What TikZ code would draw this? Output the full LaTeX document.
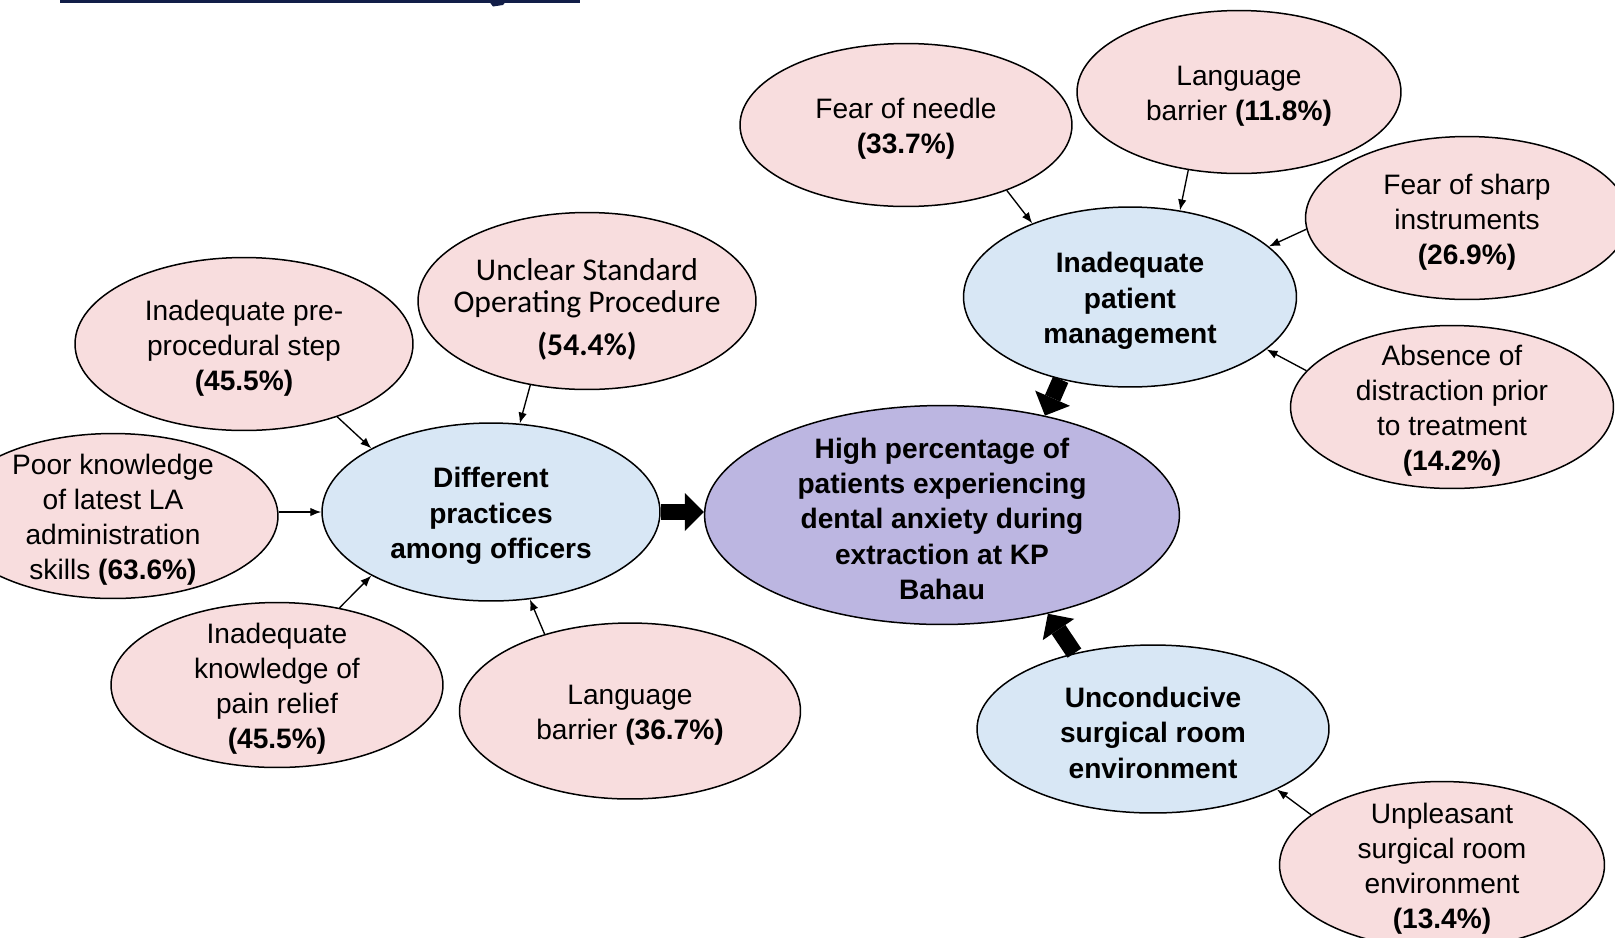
\documentclass[tikz,border=0pt]{standalone}
\usepackage{fontspec}
\setmainfont{Liberation Sans}
\newfontfamily\calibrifont{Carlito}
\usetikzlibrary{arrows.meta,shapes.geometric}

\definecolor{causepink}{RGB}{248,221,222}
\definecolor{factorblue}{RGB}{216,231,245}
\definecolor{problempurple}{RGB}{188,182,225}
\definecolor{titlenavy}{RGB}{18,30,72}

\newcommand\toplift{\rule{0pt}{16pt}}

\begin{document}
\begin{tikzpicture}[x=0.02cm, y=-0.02cm,
    cause/.style={ellipse, draw=black, line width=0.03cm, fill=causepink,
                  minimum width=6.6cm, minimum height=3.3cm,
                  inner xsep=-0.5cm, inner ysep=-0.3cm,
                  align=center, font=\fontsize{16}{20}\selectfont},
    factor/.style={cause, fill=factorblue,
                  font=\fontsize{16}{20}\selectfont\bfseries},
    problem/.style={cause, fill=problempurple,
                  font=\fontsize{16}{20}\selectfont\bfseries},
    arr/.style={-{Latex[length=0.22cm,width=0.17cm]}, line width=0.027cm},
    bigarr/.style={-{Triangle[length=0.38cm,width=0.76cm,line width=0pt]},
                  line width=0.33cm},
]
\useasboundingbox (0,0) rectangle (1615,937);

%% ─── Title rule (cut off) ───────────────────────────────────────────────────
\fill[titlenavy] (60,0) rectangle (580,2.5);
\fill[titlenavy] (488,0) -- (507,0) -- (503,5) -- (493,6.5) -- cycle;

%% ─── Central problem ────────────────────────────────────────────────────────
\node[problem, minimum width=9.5cm, minimum height=4.38cm] (central) at (942,515)
    {\toplift High percentage of\\patients experiencing\\dental anxiety during\\
     extraction at KP\\Bahau};

%% ─── Patient management (top right) ─────────────────────────────────────────
\node[factor, minimum width=6.66cm, minimum height=3.6cm] (ipm) at (1130,297)
    {\toplift Inadequate\\patient\\management};

\node[cause, minimum width=6.64cm, minimum height=3.26cm] (needle) at (906,125)
    {\toplift Fear of needle\\\textbf{(33.7\%)}};
\node[cause, minimum width=6.48cm, minimum height=3.26cm] (langtop) at (1239,92)
    {\toplift Language\\barrier \textbf{(11.8\%)}};
\node[cause, minimum width=6.46cm, minimum height=3.26cm] (sharp) at (1467,218)
    {\toplift Fear of sharp\\instruments\\\textbf{(26.9\%)}};
\node[cause, minimum width=6.46cm, minimum height=3.26cm] (absence) at (1452,407)
    {\toplift Absence of\\distraction prior\\to treatment\\\textbf{(14.2\%)}};

%% ─── Officers' practices (left) ─────────────────────────────────────────────
\node[factor, minimum width=6.76cm, minimum height=3.56cm] (diff) at (491,512)
    {\toplift Different\\practices\\among officers};

\node[cause, minimum width=6.76cm, minimum height=3.54cm,
      font=\calibrifont\fontsize{18}{18.5}\selectfont] (sop) at (587,301)
    {\rule{0pt}{22pt}Unclear Standard\\Operating Procedure\\[0.2cm]\textbf{(54.4\%)}};
\node[cause, minimum width=6.76cm, minimum height=3.46cm] (pre) at (244,344)
    {\toplift Inadequate pre-\\procedural step\\\textbf{(45.5\%)}};
\node[cause] (poor) at (113,516)
    {\toplift Poor knowledge\\of latest LA\\administration\\skills \textbf{(63.6\%)}};
\node[cause, minimum width=6.64cm] (pain) at (277,685)
    {\toplift Inadequate\\knowledge of\\pain relief\\\textbf{(45.5\%)}};
\node[cause, minimum width=6.82cm, minimum height=3.52cm] (langbot) at (630,711)
    {\toplift Language\\barrier \textbf{(36.7\%)}};

%% ─── Surgical room (bottom right) ───────────────────────────────────────────
\node[factor, minimum width=7.04cm, minimum height=3.36cm] (uncond) at (1153,729)
    {\toplift Unconducive\\surgical room\\environment};
\node[cause, minimum width=6.5cm, minimum height=3.34cm] (unpleasant) at (1442,865)
    {\toplift Unpleasant\\surgical room\\environment\\\textbf{(13.4\%)}};

%% ─── Causes → factors ───────────────────────────────────────────────────────
\draw[arr] (needle.-33)     -- (ipm.143);
\draw[arr] (langtop.-123)   -- (ipm.60);
\draw[arr] (sharp.184)      -- (ipm.20);
\draw[arr] (absence.166)    -- (ipm.-21);

\draw[arr] (sop.-124)       -- (diff.72);
\draw[arr] (pre.-38)        -- (diff.152);
\draw[arr] (poor.east |- diff.west) -- (diff.west);
\draw[arr] (pain.51)        -- (diff.-152);
\draw[arr] (langbot.138)    -- (diff.-66);

\draw[arr] (unpleasant.159) -- (uncond.-26);

%% ─── Factors → central problem ──────────────────────────────────────────────
\draw[bigarr] (diff.east) -- (diff.east -| central.west);
\draw[bigarr] (ipm.-130)  -- (central.44);
\draw[bigarr] (uncond.136) -- (central.-43);

\end{tikzpicture}
\end{document}
